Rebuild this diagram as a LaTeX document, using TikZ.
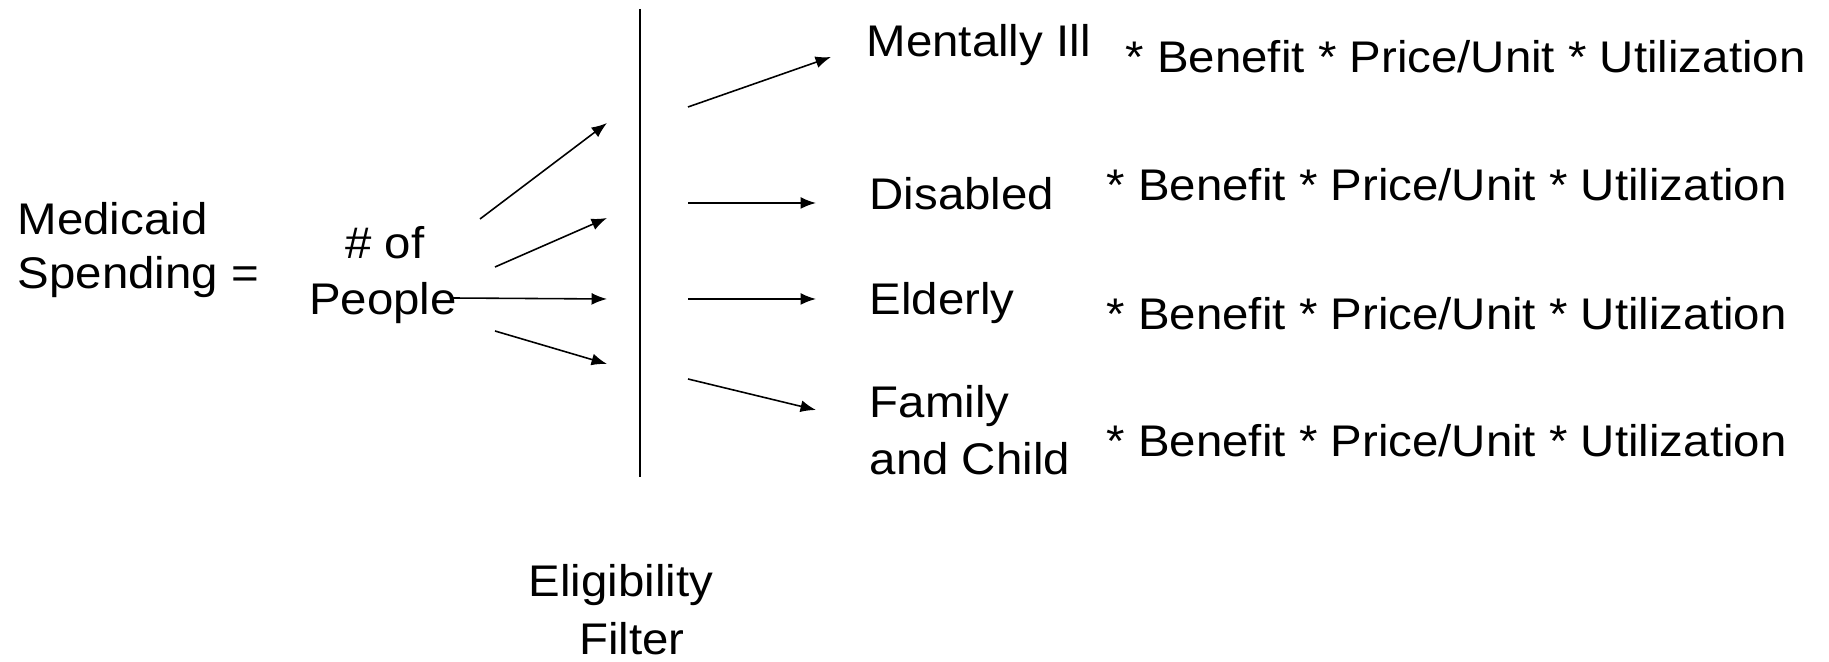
\documentclass[tikz,border=0pt]{standalone}
\usepackage{fontspec}
\setmainfont{Liberation Sans}[FakeStretch=1.07]
\usetikzlibrary{arrows.meta}

\tikzset{
  lbl/.style={anchor=base west,inner sep=0pt,font=\fontsize{12.6}{15}\selectfont},
  arr/.style={-{Latex[length=4.4pt,width=3.4pt]},line width=0.45pt}
}

\begin{document}
\begin{tikzpicture}[x=0.01cm,y=-0.01cm]
	\useasboundingbox (0,0) rectangle (1829,662);
	% left side
	\node[lbl] (med1) at (17,235) {Medicaid};
	\node[lbl] (med2) at (17,289) {Spending =};
	\node[lbl,anchor=base] (num1) at (385,259) {\# of};
	\node[lbl,anchor=base] (num2) at (383,315) {People};
	% eligibility filter
	\coordinate (ftop) at (640,9);
	\coordinate (fbot) at (640,477);
	\draw[line width=0.45pt] (ftop) -- (fbot);
	\node[lbl,anchor=base] (elig1) at (621,597) {Eligibility};
	\node[lbl,anchor=base] (elig2) at (632,655) {Filter};
	% arrows into the filter
	\coordinate (a1) at (480,219);  \coordinate (b1) at (607,123);
	\coordinate (a2) at (495,267);  \coordinate (b2) at (607,218);
	\coordinate (a3) at (451,298);  \coordinate (b3) at (607,299);
	\coordinate (a4) at (495,331);  \coordinate (b4) at (607,364);
	\draw[arr] (a1) -- (b1);
	\draw[arr] (a2) -- (b2);
	\draw[arr] (a3) -- (b3);
	\draw[arr] (a4) -- (b4);
	% arrows out of the filter
	\coordinate (c1) at (688,107);  \coordinate (d1) at (831,57);
	\coordinate (c2) at (688,203);  \coordinate (d2) at (816,203);
	\coordinate (c3) at (688,299);  \coordinate (d3) at (816,299);
	\coordinate (c4) at (688,379);  \coordinate (d4) at (816,410);
	\draw[arr] (c1) -- (d1);
	\draw[arr] (c2) -- (d2);
	\draw[arr] (c3) -- (d3);
	\draw[arr] (c4) -- (d4);
	% groups
	\node[lbl] (ill) at (866,57) {Mentally Ill};
	\node[lbl] (dis) at (869,210) {Disabled};
	\node[lbl] (eld) at (869,315) {Elderly};
	\node[lbl] (fam1) at (869,418) {Family};
	\node[lbl] (fam2) at (869,475) {and Child};
	% cost factors
	\node[lbl] (cost1) at (1125,73) {* Benefit * Price/Unit * Utilization};
	\node[lbl] (cost2) at (1106,201) {* Benefit * Price/Unit * Utilization};
	\node[lbl] (cost3) at (1106,330) {* Benefit * Price/Unit * Utilization};
	\node[lbl] (cost4) at (1106,457) {* Benefit * Price/Unit * Utilization};
\end{tikzpicture}
\end{document}
